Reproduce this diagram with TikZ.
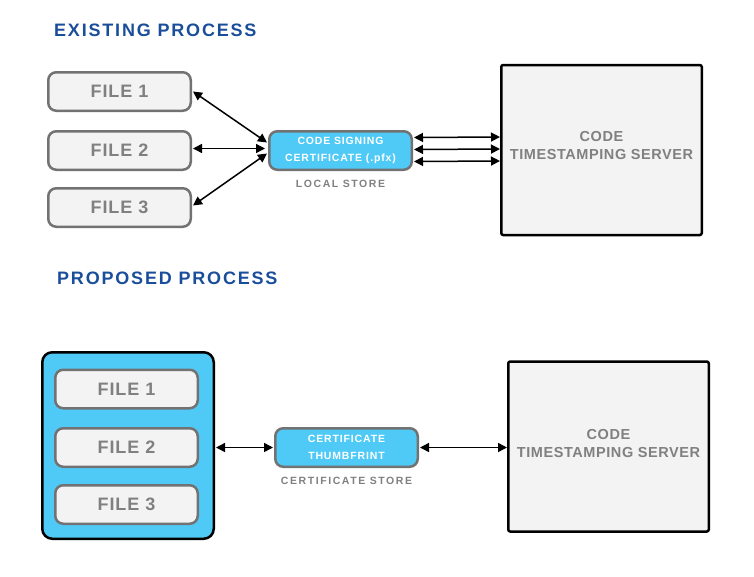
\documentclass[tikz,border=0pt]{standalone}
\usepackage{fontspec}
\setmainfont{Liberation Sans}
\usetikzlibrary{arrows.meta}
\newfontfamily\titlefont[LetterSpace=10]{Liberation Sans}
\newfontfamily\filefont[LetterSpace=5]{Liberation Sans}
\newfontfamily\smallfont[LetterSpace=8]{Liberation Sans}
\newfontfamily\labelfont[LetterSpace=15]{Liberation Sans}
\newfontfamily\serverfont[LetterSpace=4]{Liberation Sans}
\definecolor{titleblue}{HTML}{1A4E9A}
\definecolor{cyanfill}{HTML}{4FCAF7}
\definecolor{boxgray}{HTML}{727272}
\definecolor{lightfill}{HTML}{F3F3F3}
\definecolor{textgray}{HTML}{808080}
\begin{document}
\begin{tikzpicture}[x=1pt,y=-1pt,
  titletext/.style={anchor=west,inner sep=0pt,text=titleblue,font=\titlefont\bfseries\fontsize{18}{20}\selectfont},
  filebox/.style={draw=boxgray,line width=2.5pt,fill=lightfill,rounded corners=8pt,minimum width=142.5pt,minimum height=38.5pt,inner sep=0pt,text=textgray,font=\filefont\bfseries\fontsize{18}{20}\selectfont},
  certbox/.style={draw=boxgray,line width=2.5pt,fill=cyanfill,rounded corners=8pt,minimum width=142.5pt,minimum height=38.5pt,inner sep=0pt,text=white,align=center,font=\smallfont\bfseries\fontsize{10.5}{17}\selectfont},
  storelabel/.style={inner sep=0pt,text=textgray,font=\labelfont\bfseries\fontsize{10.5}{12}\selectfont},
  serverbox/.style={draw=black,line width=2.5pt,fill=lightfill,rounded corners=2pt,minimum width=200.5pt,minimum height=170pt,inner sep=0pt},
  servertext/.style={inner sep=0pt,text=textgray,align=center,font=\serverfont\bfseries\fontsize{14.5}{18}\selectfont},
  outerbox/.style={draw=black,line width=2.5pt,fill=cyanfill,rounded corners=10pt,minimum width=171.5pt,minimum height=186.5pt,inner sep=0pt},
  conn/.style={line width=1.5pt,{Triangle[length=9pt,width=9pt]}-{Triangle[length=9pt,width=9pt]}}
]
\useasboundingbox (0,0) rectangle (754,576);
% Existing process
\node[titletext] (t1) at (54,30) {EXISTING PROCESS};
\node[filebox] (f1) at (119.5,91.5) {FILE 1};
\node[filebox] (f2) at (119.5,150.5) {FILE 2};
\node[filebox] (f3) at (119.5,207.5) {FILE 3};
\node[certbox] (cert) at (340.5,150.5) {CODE SIGNING\\CERTIFICATE (.pfx)};
\node[storelabel] (ls) at (340.5,183.5) {LOCAL STORE};
\node[serverbox] (srv1) at (601.5,150) {};
\node[servertext] (srv1t) at (601.5,146) {CODE\\TIMESTAMPING SERVER};
\draw[conn] ([xshift=1pt]f1.east) -- ([yshift=8pt,xshift=-1pt]cert.west);
\draw[conn] ([xshift=1pt,yshift=2pt]f2.east) -- ([xshift=-3pt,yshift=2pt]cert.west);
\draw[conn] ([xshift=1pt,yshift=2pt]f3.east) -- ([yshift=-3pt,xshift=-1pt]cert.west);
\draw[conn] ([xshift=1pt,yshift=13pt]cert.east) -- ([yshift=13pt]srv1.west);
\draw[conn] ([xshift=1pt,yshift=1pt]cert.east) -- ([yshift=1pt]srv1.west);
\draw[conn] ([xshift=1pt,yshift=-11pt]cert.east) -- ([yshift=-11pt]srv1.west);
% Proposed process
\node[titletext] (t2) at (57,278) {PROPOSED PROCESS};
\node[outerbox] (outer) at (128,445.5) {};
\node[filebox] (g1) at (126.5,389) {FILE 1};
\node[filebox] (g2) at (126.5,447.5) {FILE 2};
\node[filebox] (g3) at (126.5,504.5) {FILE 3};
\node[certbox] (cert2) at (346.5,447.5) {CERTIFICATE\\THUMBFRINT};
\node[storelabel] (cs) at (346.5,480.5) {CERTIFICATE STORE};
\node[serverbox] (srv2) at (608.5,446.5) {};
\node[servertext] (srv2t) at (608.5,443) {CODE\\TIMESTAMPING SERVER};
\draw[conn] ([xshift=1pt]outer.east |- cert2.west) -- ([xshift=-1pt]cert2.west);
\draw[conn] ([xshift=1pt]cert2.east) -- (srv2.west |- cert2.east);
\end{tikzpicture}
\end{document}
